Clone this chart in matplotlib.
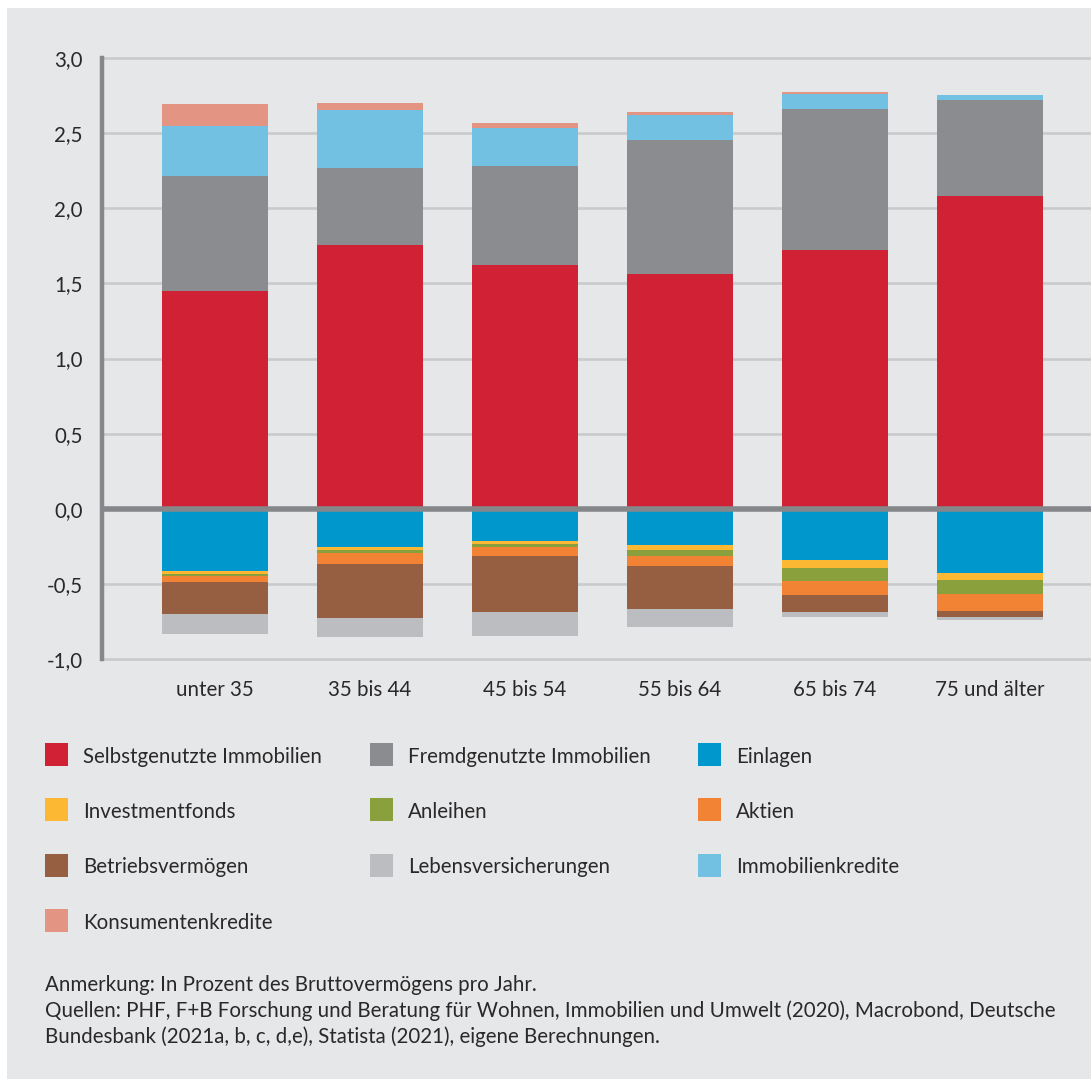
import matplotlib
matplotlib.use('Agg')
import matplotlib.pyplot as plt
from matplotlib import font_manager as fm
from matplotlib.patches import Rectangle
import numpy as np

# ---------------- data ----------------
categories = ['unter 35', '35 bis 44', '45 bis 54', '55 bis 64', '65 bis 74', '75 und älter']

# positive stack (bottom -> top)
selbstgenutzte = [1.450, 1.756, 1.623, 1.563, 1.723, 2.083]
fremdgenutzte = [0.765, 0.513, 0.659, 0.892, 0.938, 0.638]
immobilienkredite = [0.335, 0.388, 0.255, 0.166, 0.102, 0.033]
konsumentenkredite = [0.145, 0.044, 0.031, 0.020, 0.011, 0.000]

# negative stack (zero -> down)
einlagen = [-0.413, -0.253, -0.213, -0.240, -0.339, -0.426]
investmentfonds = [-0.018, -0.020, -0.020, -0.033, -0.054, -0.046]
anleihen = [-0.015, -0.022, -0.020, -0.040, -0.086, -0.094]
aktien = [-0.040, -0.071, -0.060, -0.066, -0.093, -0.113]
betriebsvermoegen = [-0.213, -0.359, -0.372, -0.286, -0.113, -0.040]
lebensversicherungen = [-0.133, -0.127, -0.160, -0.120, -0.034, -0.020]

yticks = [3.0, 2.5, 2.0, 1.5, 1.0, 0.5, 0.0, -0.5, -1.0]
ytick_labels = ['3,0', '2,5', '2,0', '1,5', '1,0', '0,5', '0,0', '-0,5', '-1,0']

legend_rows = [
    ['Selbstgenutzte Immobilien', 'Fremdgenutzte Immobilien', 'Einlagen'],
    ['Investmentfonds', 'Anleihen', 'Aktien'],
    ['Betriebsvermögen', 'Lebensversicherungen', 'Immobilienkredite'],
    ['Konsumentenkredite'],
]

note_lines = [
    'Anmerkung: In Prozent des Bruttovermögens pro Jahr.',
    'Quellen: PHF, F+B Forschung und Beratung für Wohnen, Immobilien und Umwelt (2020), Macrobond, Deutsche',
    'Bundesbank (2021a, b, c, d,e), Statista (2021), eigene Berechnungen.',
]

# ---------------- style ----------------
colors = {
    'Selbstgenutzte Immobilien': '#d02234',
    'Fremdgenutzte Immobilien': '#8b8c90',
    'Einlagen': '#0097cc',
    'Investmentfonds': '#fdb833',
    'Anleihen': '#8aa03c',
    'Aktien': '#f38334',
    'Betriebsvermögen': '#975f42',
    'Lebensversicherungen': '#bcbdc0',
    'Immobilienkredite': '#72c0e2',
    'Konsumentenkredite': '#e39482',
}
BG = '#e6e7e8'
GRID = '#c9cacc'
AXIS = '#86878b'
TXT = '#2a2829'

avail = {f.name for f in fm.fontManager.ttflist}
font, fs = 'DejaVu Sans', 13.5
for cand, size in [('Liberation Sans Narrow', 16.0), ('DejaVu Sans Condensed', 15.0),
                   ('Lato', 14.8), ('Noto Sans', 14.0)]:
    if cand in avail:
        font, fs = cand, size
        break
plt.rcParams['font.family'] = [font, 'DejaVu Sans']

W, H = 1091, 1079
fig = plt.figure(figsize=(W / 100, H / 100), dpi=100, facecolor='white')

def fx(x):
    return x / W

def fy(y):
    return 1 - y / H

# gray panel
fig.patches.append(Rectangle((fx(7), 0), 1, fy(8), transform=fig.transFigure,
                             facecolor=BG, edgecolor='none', zorder=-10))

ax = fig.add_axes([fx(102), fy(659), fx(1091) - fx(102), fy(58) - fy(659)])
ax.set_facecolor(BG)

x = np.arange(len(categories))
width = 0.684

series_pos = [('Selbstgenutzte Immobilien', selbstgenutzte),
              ('Fremdgenutzte Immobilien', fremdgenutzte),
              ('Immobilienkredite', immobilienkredite),
              ('Konsumentenkredite', konsumentenkredite)]
series_neg = [('Einlagen', einlagen),
              ('Investmentfonds', investmentfonds),
              ('Anleihen', anleihen),
              ('Aktien', aktien),
              ('Betriebsvermögen', betriebsvermoegen),
              ('Lebensversicherungen', lebensversicherungen)]

bottom = np.zeros(len(categories))
for name, vals in series_pos:
    v = np.array(vals)
    ax.bar(x, v, width, bottom=bottom, color=colors[name], label=name, zorder=2, linewidth=0)
    bottom += v
bottom = np.zeros(len(categories))
for name, vals in series_neg:
    v = np.array(vals)
    ax.bar(x, v, width, bottom=bottom, color=colors[name], label=name, zorder=2, linewidth=0)
    bottom += v

ax.set_xlim((102 - 215) / 155, (1091 - 215) / 155)
ax.set_ylim(-1.0, 3.0)
ax.set_yticks(yticks)
ax.set_yticklabels(ytick_labels)
ax.set_xticks(x)
ax.set_xticklabels(categories)
ax.tick_params(axis='both', length=0, labelsize=fs, labelcolor=TXT)
ax.tick_params(axis='y', pad=14)
ax.tick_params(axis='x', pad=15)

ax.yaxis.grid(True, color=GRID, linewidth=1.9, zorder=0)
for gl in ax.get_ygridlines():
    gl.set_clip_on(False)
ax.set_axisbelow(True)

for s in ['top', 'right', 'bottom']:
    ax.spines[s].set_visible(False)
ax.spines['left'].set_color(AXIS)
ax.spines['left'].set_linewidth(3.2)
ax.spines['left'].set_zorder(4)

ax.axhline(0, color=AXIS, linewidth=4.0, zorder=3)

# legend (drawn manually in a 3-column grid)
col_x = [45, 370, 698]
row_y = [754.5, 809.5, 865, 920.5]
sq = 23
for r, row in enumerate(legend_rows):
    for c, name in enumerate(row):
        x0 = col_x[c]
        yc = row_y[r]
        fig.patches.append(Rectangle((fx(x0), fy(yc + sq / 2)), sq / W, sq / H,
                                     transform=fig.transFigure, facecolor=colors[name],
                                     edgecolor='none'))
        fig.text(fx(x0 + 38), fy(yc + 8.3), name, fontsize=fs, color=TXT,
                 ha='left', va='baseline')

# note / sources
baselines = [991, 1017, 1043]
for line, b in zip(note_lines, baselines):
    fig.text(fx(45), fy(b), line, fontsize=fs, color=TXT, ha='left', va='baseline')

fig.savefig('out.png', dpi=100, facecolor='white')
